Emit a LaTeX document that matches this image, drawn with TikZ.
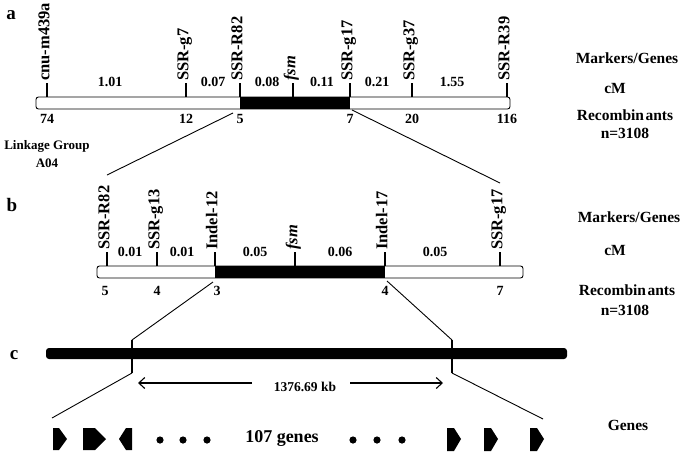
\documentclass[tikz,border=0pt]{standalone}
\usepackage{fontspec}
\setmainfont{Liberation Serif}
\usetikzlibrary{arrows.meta}
\newcommand{\fs}[1]{\fontsize{#1}{#1}\selectfont\bfseries}
\tikzset{
  mark label/.style={rotate=90,anchor=mid west,inner sep=0pt,font=\fs{16.5}},
  dist/.style={inner sep=0pt,font=\fs{14}},
  rec/.style={inner sep=0pt,font=\fs{14}},
  side/.style={inner sep=0pt,font=\fs{15.5}},
  panel/.style={inner sep=0pt,font=\fs{19}},
  tickline/.style={line width=2.4pt},
  zoomline/.style={line width=0.9pt},
  barbox/.style={draw,line width=0.9pt,rounded corners=2.5pt,fill=white},
  gene/.style={fill=black},
  dot/.style={fill=black},
  kbarrow/.style={line width=1.1pt,-{Straight Barb[length=6pt,width=11pt,line width=1.1pt]}},
}
\begin{document}
\begin{tikzpicture}[x=1pt,y=-1pt]
\useasboundingbox (0,0) rectangle (685,453);
% ---------------- panel a
\node[panel] (pa) at (11,15) {a};
\draw[barbox] (36,97) rectangle (510,109);
\fill[black] (240,97) rectangle (350,109);
\foreach \x/\lab/\nm in {47/cnu-m439a/ma1,186/SSR-g7/ma2,240/SSR-R82/ma3,293/\textit{fsm}/ma4,350/SSR-g17/ma5,412/SSR-g37/ma6,507/SSR-R39/ma7}{
  \draw[tickline] (\x,97) -- (\x,83);
  \node[mark label] (\nm) at (\x,81) {\lab};
}
\node[dist] (da1) at (110,82) {1.01};
\node[dist] (da2) at (213,82) {0.07};
\node[dist] (da3) at (267,82) {0.08};
\node[dist] (da4) at (322,82) {0.11};
\node[dist] (da5) at (377,82) {0.21};
\node[dist] (da6) at (452,82) {1.55};
\foreach \x/\n/\nm in {47/74/ra1,186/12/ra2,240/5/ra3,350/7/ra4,412/20/ra5,507/116/ra6}{
  \node[rec] (\nm) at (\x,119) {\n};
}
\node[inner sep=0pt,font=\fs{13}] (lg) at (47,146) {Linkage Group};
\node[inner sep=0pt,font=\fs{13}] (lga) at (47,163) {A04};
\node[side] (sa1) at (627,58) {Markers/Genes};
\node[side] (sa2) at (615,88) {cM};
\node[side] (sa3) at (625,115) {Recombin\kern1.5pt ants};
\node[side] (sa4) at (625,133) {n=3108};
% zoom lines a -> b
\coordinate (za1) at (233,113);
\coordinate (zb1) at (107,175);
\coordinate (za2) at (352,110);
\coordinate (zb2) at (500,183);
\draw[zoomline] (za1) -- (zb1);
\draw[zoomline] (za2) -- (zb2);
% ---------------- panel b
\node[panel] (pb) at (12,205) {b};
\draw[barbox] (97,266) rectangle (523,278);
\fill[black] (215,266) rectangle (385,278);
\foreach \x/\lab/\nm in {107/SSR-R82/mb1,157/SSR-g13/mb2,215/Indel-12/mb3,295/\textit{fsm}/mb4,385/Indel-17/mb5,500/SSR-g17/mb6}{
  \draw[tickline] (\x,266) -- (\x,252);
  \node[mark label] (\nm) at (\x,250) {\lab};
}
\node[dist] (db1) at (130,252) {0.01};
\node[dist] (db2) at (182,252) {0.01};
\node[dist] (db3) at (255,252) {0.05};
\node[dist] (db4) at (340,252) {0.06};
\node[dist] (db5) at (435,252) {0.05};
\foreach \x/\n/\nm in {105/5/rb1,157/4/rb2,217/3/rb3,385/4/rb4,500/7/rb5}{
  \node[rec] (\nm) at (\x,291) {\n};
}
\node[side] (sb1) at (629,217) {Markers/Genes};
\node[side] (sb2) at (615,250) {cM};
\node[side] (sb3) at (627,290) {Recombin\kern1.5pt ants};
\node[side] (sb4) at (625,310) {n=3108};
% zoom lines b -> c
\coordinate (zb3) at (213,282);
\coordinate (zc1) at (132,340);
\coordinate (zb4) at (387,281);
\coordinate (zc2) at (452,340);
\draw[zoomline] (zb3) -- (zc1);
\draw[zoomline] (zb4) -- (zc2);
% ---------------- panel c
\node[panel] (pc) at (14,355) {c};
\fill[black,rounded corners=3pt] (46,348) rectangle (567,359);
\coordinate (zc3) at (132,373);
\coordinate (zc4) at (452,373);
\draw[line width=1.6pt] (zc1) -- (zc3);
\draw[line width=1.6pt] (zc2) -- (zc4);
\node[inner sep=0pt,font=\fs{13.5}] (kb) at (305,387) {1376.69 kb};
\coordinate (ka) at (252,383);
\coordinate (kat) at (138,383);
\coordinate (kb1) at (350,383);
\coordinate (kbt) at (443,383);
\draw[kbarrow] (ka) -- (kat);
\draw[kbarrow] (kb1) -- (kbt);
\coordinate (g1) at (52,418);
\coordinate (g2) at (543,419);
\draw[zoomline] (zc3) -- (g1);
\draw[zoomline] (zc4) -- (g2);
% genes
\fill[gene] (53,428) -- (59,428) -- (67,439) -- (59,450) -- (53,450) -- cycle;
\fill[gene] (83,428) -- (95,428) -- (106,439) -- (95,450) -- (83,450) -- cycle;
\fill[gene] (132,428) -- (126,428) -- (119,439) -- (126,450) -- (132,450) -- cycle;
\foreach \x in {447,484,530}{
  \fill[gene] (\x,428) -- (\x+7,428) -- (\x+14,439) -- (\x+7,451) -- (\x,451) -- cycle;
}
\foreach \x in {160,183,207,353,377,402}{
  \fill[dot] (\x,440) circle (3.6);
}
\node[inner sep=0pt,font=\fs{18}] (gn) at (282,438) {107 genes};
\node[side] (gl) at (628,425) {Genes};
\end{tikzpicture}
\end{document}
